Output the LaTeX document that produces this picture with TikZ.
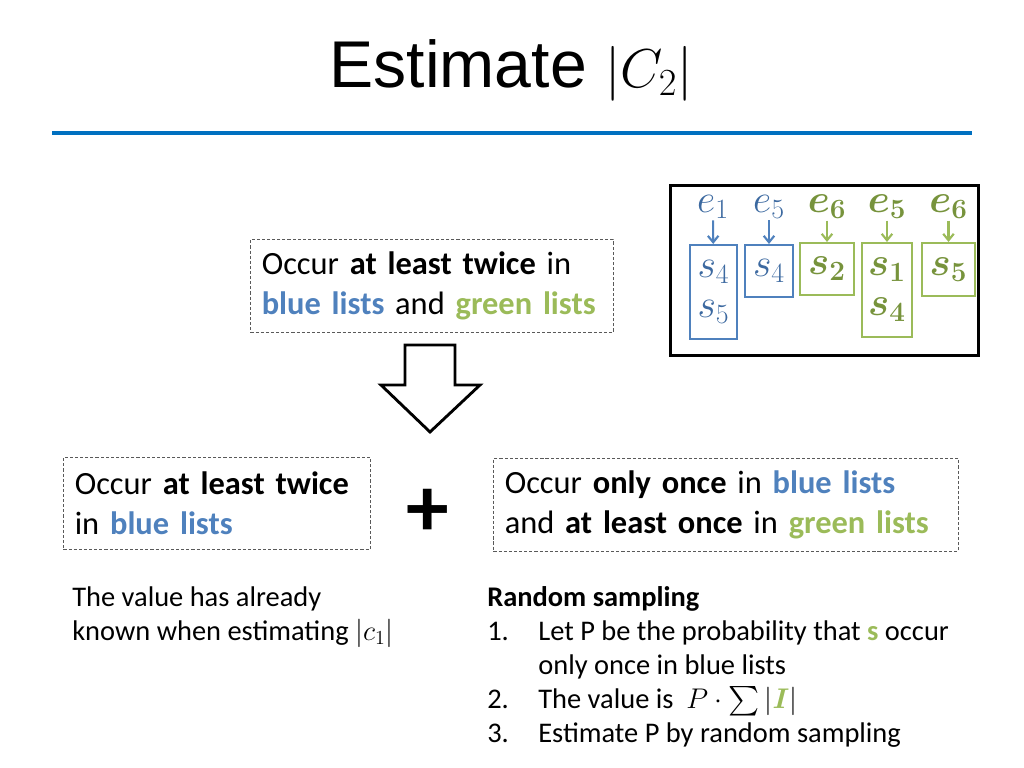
\RequirePackage{fix-cm}
\documentclass[tikz,border=0pt]{standalone}
\usepackage{amsmath}
\usepackage{fontspec}
\setmainfont{Carlito}
\newfontfamily\titlefont{Liberation Sans}
\usetikzlibrary{arrows.meta,positioning}
\definecolor{esRule}{HTML}{0070C0}
\definecolor{esBlue}{HTML}{4F81BD}
\definecolor{esGreen}{HTML}{9BBB59}
\definecolor{esBlueDk}{HTML}{3C69A0}
\definecolor{esGreenDk}{HTML}{77933C}
\definecolor{esDash}{HTML}{595959}
\newcommand{\bl}[1]{\textcolor{esBlue}{\textbf{#1}}}
\newcommand{\gr}[1]{\textcolor{esGreen}{\textbf{#1}}}
\tikzset{
  esbox/.style={
    draw=esDash, dash pattern=on 2.2pt off 1.4pt, line width=0.6pt,
    align=left, inner xsep=8pt, inner ysep=0pt, anchor=north west,
    font=\fontsize{22.8}{28}\selectfont
  },
  listbox/.style={
    line width=1.5pt, inner sep=0pt, align=center,
    font=\fontsize{28}{28}\selectfont
  },
  bluelist/.style={listbox, draw=esBlue, text=esBlueDk},
  greenlist/.style={listbox, draw=esGreen, text=esGreenDk},
  elabel/.style={inner sep=1pt, font=\fontsize{28}{28}\selectfont},
  listarrow/.style={-{Straight Barb[length=1.6mm,width=2.6mm]}, line width=1.5pt},
  blockarrow/.style={draw=black, fill=white, line width=2pt, line join=miter},
  plain/.style={align=left, inner sep=0pt, anchor=north west,
    font=\fontsize{20}{24}\selectfont}
}
\begin{document}
\begin{tikzpicture}[x=0.703pt, y=-0.703pt]
  \useasboundingbox (0,0) rectangle (1024,768);
  % title and rule
  \node[font=\titlefont\fontsize{46.5}{54}\selectfont] (title) at (511,70)
    {Estimate {\fontsize{38.5}{50}\selectfont$|C_2|$}};
  \draw[esRule, line width=3.5pt] (52,133) -- (972,133);

  % top condition and block arrow
  \node[esbox, text width=239pt, minimum height=65.4pt] (both) at (250,239)
    {Occur \textbf{at least twice} in\\\bl{blue lists} and \gr{green lists}};
  \draw[blockarrow] (405,345) -- (455,345) -- (455,385) -- (480,385)
    -- (430,432) -- (381,385) -- (405,385) -- cycle;

  % split into two parts
  \node[esbox, text width=199.8pt, minimum height=64.7pt] (twice) at (63,457)
    {Occur \textbf{at least twice}\\in \bl{blue lists}};
  \node[font=\fontsize{60}{60}\selectfont\bfseries] (plus) at (428,513) {+};
  \node[esbox, text width=310.9pt, minimum height=65.4pt] (once) at (493,458)
    {Occur \textbf{only once} in \bl{blue lists}\\and \textbf{at least once} in \gr{green lists}};

  % notes
  \node[plain] (known) at (72,586) {The value has already\\known when estimating $|c_1|$};
  \node[plain] (sampling) at (487,582) {%
    \begin{tabular}{@{}p{35.9pt}@{}l@{}}
      \multicolumn{2}{@{}l@{}}{\textbf{Random sampling}}\\
      1. & Let P be the probability that \gr{s} occur\\
         & only once in blue lists\\
      2. & The value is \ \smash{$P\cdot\sum|\textcolor{esGreen}{\boldsymbol{I}}|$}\\
      3. & Estimate P by random sampling
    \end{tabular}};

  % example lists
  \node[draw, line width=2pt, minimum width=216.5pt, minimum height=119.5pt, anchor=north west] (panel) at (669,184) {};
  \node[bluelist, minimum width=33pt, minimum height=66pt] (b1) at (713.5,292) {$s_4$\\[0pt]$s_5$};
  \node[bluelist, minimum width=33.7pt, minimum height=36.5pt] (b2) at (769,271) {$s_4$};
  \node[greenlist, minimum width=38pt, minimum height=36.5pt] (g1) at (827,269) {$\boldsymbol{s_2}$};
  \node[greenlist, minimum width=35.1pt, minimum height=66pt] (g2) at (887,290) {$\boldsymbol{s_1}$\\[0pt]$\boldsymbol{s_4}$};
  \node[greenlist, minimum width=37.3pt, minimum height=37.2pt] (g3) at (948.5,269.5) {$\boldsymbol{s_5}$};
  \node[elabel, text=esBlueDk] (l1) at (713,207) {$e_1$};
  \node[elabel, text=esBlueDk] (l2) at (769,207) {$e_5$};
  \node[elabel, text=esGreenDk] (l3) at (827,207) {$\boldsymbol{e_6}$};
  \node[elabel, text=esGreenDk] (l4) at (887,207) {$\boldsymbol{e_5}$};
  \node[elabel, text=esGreenDk] (l5) at (948.5,207) {$\boldsymbol{e_6}$};
  \draw[listarrow, esBlue] (l1) -- (b1);
  \draw[listarrow, esBlue] (l2) -- (b2);
  \draw[listarrow, esGreen] (l3) -- (g1);
  \draw[listarrow, esGreen] (l4) -- (g2);
  \draw[listarrow, esGreen] (l5) -- (g3);
\end{tikzpicture}
\end{document}
